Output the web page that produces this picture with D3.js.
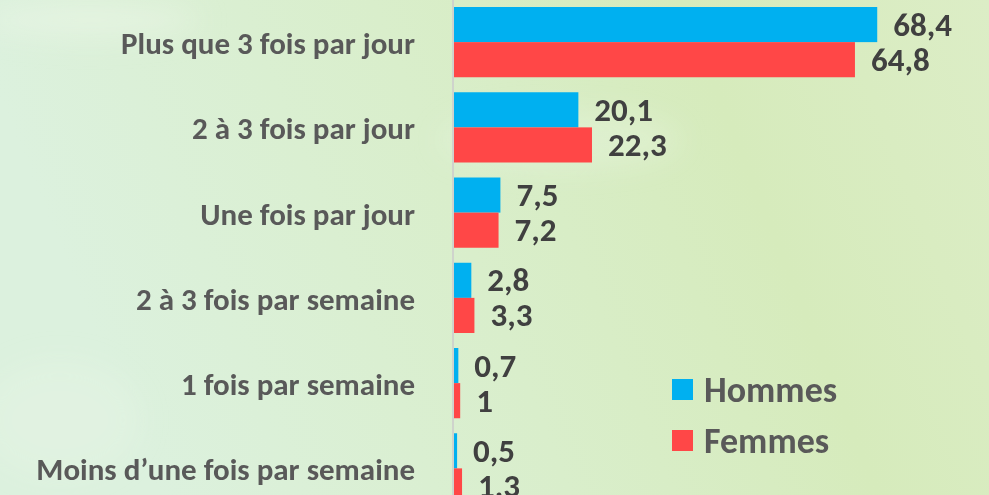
<!DOCTYPE html>
<html>
<head>
<meta charset="utf-8">
<script src="https://cdn.jsdelivr.net/npm/d3@7"></script>
<style>
  html, body { margin: 0; padding: 0; overflow: hidden; }
  svg { display: block; }
  text { font-family: Carlito, Lato, "Open Sans", sans-serif; font-weight: bold; }
</style>
</head>
<body>
<div id="chart"></div>
<script>
const categories = [
    'Plus que 3 fois par jour',
    '2 à 3 fois par jour',
    'Une fois par jour',
    '2 à 3 fois par semaine',
    '1 fois par semaine',
    'Moins d\u2019une fois par semaine'
];
const hommes = [68.4, 20.1, 7.5, 2.8, 0.7, 0.5];
const femmes = [64.8, 22.3, 7.2, 3.3, 1, 1.3];
const seriesNames = ['Hommes', 'Femmes'];
const seriesColors = ['#00B0F0', '#FF4747'];

const width = 989,
    height = 495;

const svg = d3.select('#chart')
    .append('svg')
    .attr('width', width)
    .attr('height', height);

// background: pale green wash
const defs = svg.append('defs');
const bg = defs.append('linearGradient')
    .attr('id', 'bg')
    .attr('x1', '0').attr('y1', '0.2')
    .attr('x2', '1').attr('y2', '0');
bg.append('stop').attr('offset', '0%').attr('stop-color', '#dcf1de');
bg.append('stop').attr('offset', '40%').attr('stop-color', '#d9eecb');
bg.append('stop').attr('offset', '70%').attr('stop-color', '#d6ebbc');
bg.append('stop').attr('offset', '100%').attr('stop-color', '#dcedc6');

defs.append('filter')
    .attr('id', 'blur')
    .append('feGaussianBlur')
    .attr('stdDeviation', 14);

svg.append('rect')
    .attr('width', width)
    .attr('height', height)
    .attr('fill', 'url(#bg)');

const glow = svg.append('g').attr('filter', 'url(#blur)').attr('fill', '#eef8ea');
glow.append('ellipse').attr('cx', 90).attr('cy', 20).attr('rx', 110).attr('ry', 18).attr('opacity', 0.5);
glow.append('ellipse').attr('cx', 560).attr('cy', 140).attr('rx', 120).attr('ry', 30).attr('opacity', 0.3);
glow.append('ellipse').attr('cx', 60).attr('cy', 420).attr('rx', 80).attr('ry', 60).attr('opacity', 0.25);

const x = d3.scaleLinear()
    .domain([0, 80])
    .range([454, 949]);

const y = d3.scaleBand()
    .domain(categories)
    .range([-0.5, 511])
    .paddingInner(0.176)
    .paddingOuter(0.088);

const inner = d3.scaleBand()
    .domain(seriesNames)
    .range([0, y.bandwidth()]);

const rows = categories.map((c, i) => ({
    category: c,
    values: [hommes[i], femmes[i]]
}));

// axis line
svg.append('line')
    .attr('x1', x(0) - 1)
    .attr('x2', x(0) - 1)
    .attr('y1', 0)
    .attr('y2', height)
    .attr('stroke', '#cfd3cc')
    .attr('stroke-width', 2);

const group = svg.selectAll('.row')
    .data(rows)
    .enter()
    .append('g')
    .attr('class', 'row')
    .attr('transform', d => `translate(0, ${y(d.category)})`);

group.selectAll('rect')
    .data(d => d.values.map((v, j) => ({ name: seriesNames[j], value: v, color: seriesColors[j] })))
    .enter()
    .append('rect')
    .attr('x', x(0))
    .attr('y', d => inner(d.name))
    .attr('width', d => x(d.value) - x(0))
    .attr('height', inner.bandwidth())
    .attr('fill', d => d.color);

group.selectAll('.value')
    .data(d => d.values.map((v, j) => ({ name: seriesNames[j], value: v })))
    .enter()
    .append('text')
    .attr('class', 'value')
    .attr('x', d => x(d.value) + 16)
    .attr('y', d => inner(d.name) + inner.bandwidth() / 2)
    .attr('dominant-baseline', 'central')
    .attr('fill', '#404040')
    .attr('font-size', '33px')
    .text(d => String(d.value).replace('.', ','));

// category labels
svg.selectAll('.cat')
    .data(categories)
    .enter()
    .append('text')
    .attr('class', 'cat')
    .attr('x', 415)
    .attr('y', d => y(d) + y.bandwidth() / 2 + 1)
    .attr('text-anchor', 'end')
    .attr('dominant-baseline', 'central')
    .attr('fill', '#595959')
    .attr('font-size', '31px')
    .text(d => d);

// legend
const legend = svg.selectAll('.legend')
    .data(seriesNames)
    .enter()
    .append('g')
    .attr('class', 'legend')
    .attr('transform', (d, i) => `translate(672, ${379 + i * 51})`);

legend.append('rect')
    .attr('width', 21)
    .attr('height', 21)
    .attr('fill', (d, i) => seriesColors[i]);

legend.append('text')
    .attr('x', 32)
    .attr('y', 11)
    .attr('dominant-baseline', 'central')
    .attr('fill', '#595959')
    .attr('font-size', '36px')
    .text(d => d);
</script>
</body>
</html>
